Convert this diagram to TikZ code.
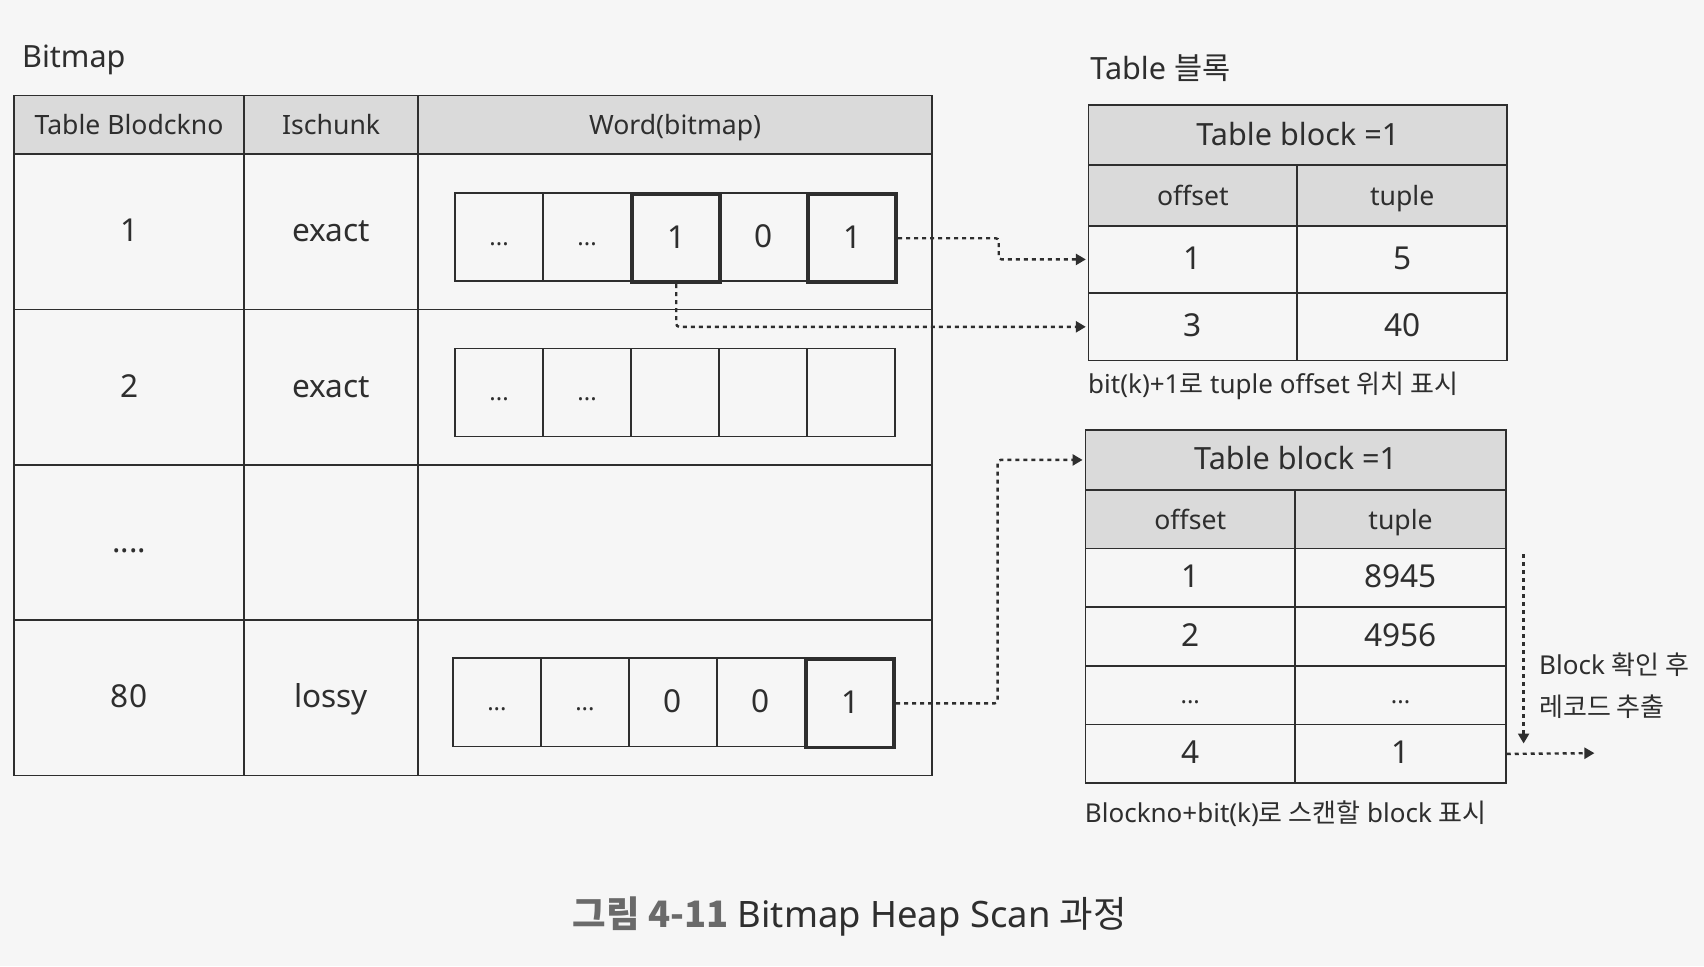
\documentclass[tikz,border=0pt]{standalone}
\usepackage{fontspec}
\setmainfont{Noto Sans}
\newfontfamily\kr{Noto Sans CJK KR}
\usetikzlibrary{arrows.meta}
\definecolor{bg}{HTML}{F6F6F6}
\definecolor{hdr}{HTML}{DADADA}
\definecolor{ink}{HTML}{2E2E2E}
\definecolor{capgray}{HTML}{6A6A6A}
\def\ux{0.5434pt}
\begin{document}
\begin{tikzpicture}[x=0.5434pt,y=-0.5434pt,
  cell/.style={draw=ink, line width=0.8pt, inner sep=0pt, anchor=north west, text=ink,
    text height=11.5pt, text depth=1.5pt,
    font=\fontsize{15.8}{18}\selectfont},
  hcell/.style={cell, fill=hdr, font=\fontsize{13.3}{16}\selectfont},
  tcell/.style={cell, fill=hdr, font=\fontsize{15.3}{18}\selectfont},
  bitbox/.style={cell, minimum width=81*\ux, minimum height=81*\ux},
  hot/.style={line width=1.9pt},
  dots/.style={font=\fontsize{12}{14}\selectfont, text height=8pt, text depth=0pt},
  flow/.style={draw=ink, line width=1.2pt, dash pattern=on 2pt off 2pt, shorten >=1pt,
    -{Triangle[length=5pt,width=5.5pt]}},
  lbl/.style={text=ink, inner sep=0pt, anchor=west}
]
\fill[bg] (0,0) rectangle (1568,889);
\useasboundingbox (0,0) rectangle (1568,889);

% ---------------- Bitmap table ----------------
\node[lbl, font=\fontsize{15.3}{18}\selectfont] (bmlabel) at (20,55) {Bitmap};

\node[hcell, minimum width=212*\ux, minimum height=54*\ux] (hA) at (12,87) {Table Blodckno};
\node[hcell, minimum width=160*\ux, minimum height=54*\ux] (hB) at (224,87) {Ischunk};
\node[hcell, minimum width=473*\ux, minimum height=54*\ux] (hC) at (384,87) {Word(bitmap)};

\node[cell, minimum width=212*\ux, minimum height=143*\ux] (a1) at (12,141) {1};
\node[cell, minimum width=160*\ux, minimum height=143*\ux] (b1) at (224,141) {exact};
\node[cell, minimum width=473*\ux, minimum height=143*\ux] (w1) at (384,141) {};

\node[cell, minimum width=212*\ux, minimum height=143*\ux] (a2) at (12,284) {2};
\node[cell, minimum width=160*\ux, minimum height=143*\ux] (b2) at (224,284) {exact};
\node[cell, minimum width=473*\ux, minimum height=143*\ux] (w2) at (384,284) {};

\node[cell, minimum width=212*\ux, minimum height=143*\ux] (a3) at (12,427) {....};
\node[cell, minimum width=160*\ux, minimum height=143*\ux] (b3) at (224,427) {};
\node[cell, minimum width=473*\ux, minimum height=143*\ux] (w3) at (384,427) {};

\node[cell, minimum width=212*\ux, minimum height=143*\ux] (a4) at (12,570) {80};
\node[cell, minimum width=160*\ux, minimum height=143*\ux] (b4) at (224,570) {lossy};
\node[cell, minimum width=473*\ux, minimum height=143*\ux] (w4) at (384,570) {};

% word cells, row 1
\node[bitbox, dots] (c11) at (418,177) {...};
\node[bitbox, dots] (c12) at (499,177) {...};
\node[bitbox, hot] (c13) at (580,177) {1};
\node[bitbox] (c14) at (661,177) {0};
\node[bitbox, hot] (c15) at (742,177) {1};
% row 2
\node[bitbox, dots] (c21) at (418,320) {...};
\node[bitbox, dots] (c22) at (499,320) {...};
\node[bitbox] (c23) at (580,320) {};
\node[bitbox] (c24) at (661,320) {};
\node[bitbox] (c25) at (742,320) {};
% row 4
\node[bitbox, dots] (c41) at (416,605) {...};
\node[bitbox, dots] (c42) at (497,605) {...};
\node[bitbox] (c43) at (578,605) {0};
\node[bitbox] (c44) at (659,605) {0};
\node[bitbox, hot] (c45) at (740,605) {1};

% ---------------- Table block (top) ----------------
\node[lbl, font=\fontsize{15.3}{18}\selectfont] (t1label) at (1003,63) {Table {\kr 블록}};
\node[tcell, minimum width=385*\ux, minimum height=55*\ux] (t1title) at (1001,96) {Table block =1};
\node[hcell, minimum width=192*\ux, minimum height=56*\ux] (t1ho) at (1001,151) {offset};
\node[hcell, minimum width=193*\ux, minimum height=56*\ux] (t1ht) at (1193,151) {tuple};
\node[cell, minimum width=192*\ux, minimum height=62*\ux] (t1o1) at (1001,207) {1};
\node[cell, minimum width=193*\ux, minimum height=62*\ux] (t1t1) at (1193,207) {5};
\node[cell, minimum width=192*\ux, minimum height=62*\ux] (t1o2) at (1001,269) {3};
\node[cell, minimum width=193*\ux, minimum height=62*\ux] (t1t2) at (1193,269) {40};
\node[lbl, font=\fontsize{13}{16}\selectfont] (t1cap) at (1001,355)
  {bit(k)+1{\kr 로} tuple offset {\kr 위치 표시}};

% ---------------- Table block (bottom) ----------------
\node[tcell, minimum width=387*\ux, minimum height=55*\ux] (t2title) at (998,395) {Table block =1};
\node[hcell, minimum width=193*\ux, minimum height=54*\ux] (t2ho) at (998,450) {offset};
\node[hcell, minimum width=194*\ux, minimum height=54*\ux] (t2ht) at (1191,450) {tuple};
\node[cell, minimum width=193*\ux, minimum height=54*\ux] (t2o1) at (998,504) {1};
\node[cell, minimum width=194*\ux, minimum height=54*\ux] (t2t1) at (1191,504) {8945};
\node[cell, minimum width=193*\ux, minimum height=54*\ux] (t2o2) at (998,558) {2};
\node[cell, minimum width=194*\ux, minimum height=54*\ux] (t2t2) at (1191,558) {4956};
\node[cell, dots, minimum width=193*\ux, minimum height=54*\ux] (t2o3) at (998,612) {...};
\node[cell, dots, minimum width=194*\ux, minimum height=54*\ux] (t2t3) at (1191,612) {...};
\node[cell, minimum width=193*\ux, minimum height=54*\ux] (t2o4) at (998,666) {4};
\node[cell, minimum width=194*\ux, minimum height=54*\ux] (t2t4) at (1191,666) {1};
\node[lbl, font=\fontsize{13}{16}\selectfont] (t2cap) at (998,749)
  {Blockno+bit(k){\kr 로 스캔할} block {\kr 표시}};

\node[lbl, font=\fontsize{13}{16}\selectfont] (note1) at (1416,612) {Block {\kr 확인 후}};
\node[lbl, font=\fontsize{13}{16}\selectfont] (note2) at (1416,650) {\kr 레코드 추출};

% ---------------- connectors ----------------
\draw[flow, rounded corners=1.5pt] (c15.east) -| ([xshift=-82*\ux]t1o1.west) -- (t1o1.west);
\draw[flow, rounded corners=1.5pt] (c13.south) |- (t1o2.west);
\draw[flow, rounded corners=1.5pt] (c45.east) -| ([xshift=-80*\ux]t2title.west) -- (t2title.west);
\coordinate (v1) at (1402,510);
\coordinate (v2) at (1402,686);
\draw[flow] (v1) -- (v2);
\coordinate (o5) at (1469,693);
\draw[flow] (t2t4.east) -- (o5);

% ---------------- caption ----------------
\node[inner sep=0pt, text=ink, font=\fontsize{18.2}{21}\selectfont] (caption) at (782,843)
  {{\color{capgray}\kr\bfseries 그림 4-11} Bitmap Heap Scan {\kr 과정}};
\end{tikzpicture}
\end{document}
